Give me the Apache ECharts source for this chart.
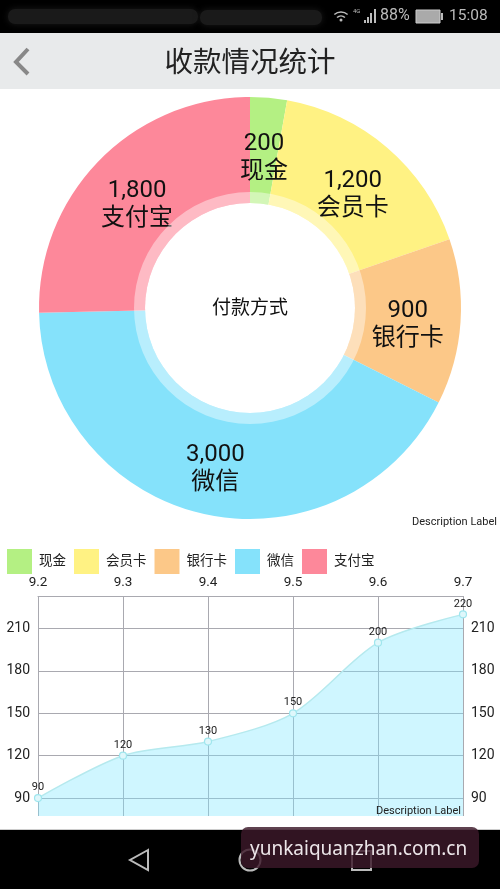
<!DOCTYPE html>
<html>
<head>
<meta charset="utf-8">
<title>收款情况统计</title>
<script src="https://cdn.jsdelivr.net/npm/echarts@6/dist/echarts.min.js"></script>
<style>
  html, body { margin: 0; padding: 0; background: #fff; }
  #chart { width: 500px; height: 889px; }
</style>
</head>
<body>
<div id="chart"></div>
<script>
const payNames = ['现金', '会员卡', '银行卡', '微信', '支付宝'];
const payValues = [200, 1200, 900, 3000, 1800];
const payColors = ['#b4f083', '#fff283', '#fcc888', '#85e2fb', '#fd889a'];

const days = ['9.2', '9.3', '9.4', '9.5', '9.6', '9.7'];
const dayValues = [90, 120, 130, 150, 200, 220];
const yTicks = [90, 120, 150, 180, 210];

const FONT = "Roboto, 'Noto Sans CJK SC', sans-serif";

const yAxisBase = {
  type: 'value',
  min: 77.3,
  max: 233,
  axisLine: { show: false },
  axisTick: { show: false, customValues: yTicks },
  axisLabel: { customValues: yTicks, color: '#222', fontSize: 14, fontFamily: FONT, margin: 8 }
};

const smear = { shadowBlur: 7, shadowColor: '#1a1a1a' };

const chrome = [
  // status bar
  { type: 'rect', shape: { x: 0, y: 0, width: 500, height: 33 }, style: { fill: '#000' } },
  { type: 'rect', shape: { x: 8, y: 9, width: 190, height: 15, r: 7 }, style: Object.assign({ fill: '#1a1a1a' }, smear) },
  { type: 'rect', shape: { x: 200, y: 10, width: 122, height: 15, r: 7 }, style: Object.assign({ fill: '#1a1a1a' }, smear) },
  { type: 'arc', shape: { cx: 341, cy: 22, r: 10, startAngle: -2.3, endAngle: -0.85 }, style: { stroke: '#bbb', fill: null, lineWidth: 1.5 } },
  { type: 'arc', shape: { cx: 341, cy: 22, r: 6, startAngle: -2.3, endAngle: -0.85 }, style: { stroke: '#bbb', fill: null, lineWidth: 1.5 } },
  { type: 'circle', shape: { cx: 341, cy: 20, r: 1.5 }, style: { fill: '#bbb' } },
  { type: 'text', style: { x: 353, y: 8, text: '4G', fill: '#bbb', fontSize: 6, fontFamily: FONT } },
  { type: 'rect', shape: { x: 364, y: 20, width: 2, height: 3 }, style: { fill: '#bbb' } },
  { type: 'rect', shape: { x: 367, y: 17, width: 2, height: 6 }, style: { fill: '#bbb' } },
  { type: 'rect', shape: { x: 370, y: 13, width: 2, height: 10 }, style: { fill: '#bbb' } },
  { type: 'rect', shape: { x: 374, y: 9, width: 2, height: 14 }, style: { fill: '#bbb' } },
  { type: 'text', style: { x: 380, y: 8, text: '88%', fill: '#bbb', fontSize: 16, fontFamily: FONT } },
  { type: 'rect', shape: { x: 416, y: 10, width: 24, height: 13 }, style: { fill: '#aaa', stroke: '#ccc', lineWidth: 1 } },
  { type: 'rect', shape: { x: 441, y: 13, width: 2, height: 7 }, style: { fill: '#bbb' } },
  { type: 'text', style: { x: 449, y: 8, text: '15:08', fill: '#bbb', fontSize: 15.5, fontFamily: FONT } },
  // header
  { type: 'rect', shape: { x: 0, y: 33, width: 500, height: 56 }, style: { fill: '#e8eaeb' } },
  { type: 'polyline', shape: { points: [[28, 49], [16, 62], [28, 74]] }, style: { stroke: '#888', fill: null, lineWidth: 4 } },
  { type: 'text', style: { x: 250, y: 65, text: '收款情况统计', fill: '#222', fontSize: 28.5, fontFamily: FONT, align: 'center', verticalAlign: 'middle' } },
  // pie centre and descriptions
  { type: 'text', style: { x: 250, y: 309, text: '付款方式', fill: '#111', fontSize: 19, fontFamily: FONT, align: 'center', verticalAlign: 'middle' } },
  { type: 'text', style: { x: 497, y: 522, text: 'Description Label', fill: '#222', fontSize: 11, fontFamily: FONT, align: 'right', verticalAlign: 'middle' } },
  { type: 'text', style: { x: 461, y: 811, text: 'Description Label', fill: '#222', fontSize: 11, fontFamily: FONT, align: 'right', verticalAlign: 'middle' } },
  // nav bar
  { type: 'rect', shape: { x: 0, y: 830, width: 500, height: 59 }, style: { fill: '#000' } },
  { type: 'rect', shape: { x: 0, y: 829, width: 500, height: 1 }, style: { fill: '#ccc' } },
  { type: 'polygon', shape: { points: [[148, 850], [130, 860], [148, 870]] }, style: { stroke: '#bbb', fill: null, lineWidth: 2 } },
  { type: 'circle', shape: { cx: 250, cy: 860, r: 10.5 }, style: { stroke: '#bbb', fill: null, lineWidth: 2 } },
  { type: 'rect', shape: { x: 352, y: 851, width: 19, height: 19 }, style: { stroke: '#bbb', fill: null, lineWidth: 2 } },
  // watermark
  { type: 'rect', shape: { x: 241, y: 827, width: 238, height: 41, r: 7 }, style: { fill: 'rgba(60,25,42,0.82)' } },
  { type: 'text', style: { x: 250, y: 850, text: 'yunkaiquanzhan.com.cn', fill: '#ece6e9', fontSize: 19, fontFamily: "'Noto Sans', sans-serif", verticalAlign: 'middle' } }
];

const myChart = echarts.init(document.getElementById('chart'));
myChart.setOption({
  animation: false,
  backgroundColor: '#fff',
  legend: {
    data: payNames,
    left: 7,
    top: 549,
    padding: 0,
    itemWidth: 25,
    itemHeight: 25,
    itemGap: 8,
    icon: 'rect',
    textStyle: { color: '#222', fontSize: 13.5, fontFamily: FONT, padding: [0, 0, 0, 2] }
  },
  grid: { left: 38, right: 37, top: 596, bottom: 73 },
  xAxis: {
    type: 'category',
    position: 'top',
    boundaryGap: false,
    data: days,
    axisLine: { lineStyle: { color: '#a9a9b0', width: 1 } },
    axisTick: { show: false },
    axisLabel: { color: '#222', fontSize: 13.5, fontFamily: FONT, margin: 7, showMinLabel: true, showMaxLabel: true },
    splitLine: { show: true, lineStyle: { color: '#a9a9b0', width: 1 } }
  },
  yAxis: [
    Object.assign({}, yAxisBase, { position: 'left', splitLine: { show: true, lineStyle: { color: '#a9a9b0', width: 1 } } }),
    Object.assign({}, yAxisBase, { position: 'right', splitLine: { show: false } })
  ],
  series: [
    {
      // inner edge sits under the disc below, so the labels land where the reference has them
      type: 'pie',
      center: [250, 308],
      radius: [99, 211],
      startAngle: 90,
      silent: true,
      data: payNames.map((name, i) => ({
        name,
        value: payValues[i],
        itemStyle: { color: payColors[i] }
      })),
      label: {
        position: 'inside',
        formatter: p => p.value.toLocaleString('en-US') + '\n' + p.name,
        color: '#111',
        fontSize: 24,
        lineHeight: 28,
        fontFamily: FONT,
        offset: [0, 7]
      },
      labelLine: { show: false }
    },
    {
      // white hole
      type: 'pie',
      center: [250, 308],
      radius: [0, 105],
      silent: true,
      data: [{ name: 'hole', value: 1 }],
      itemStyle: { color: '#fff' },
      label: { show: false },
      labelLine: { show: false },
      z: 3
    },
    {
      // translucent ring around the hole
      type: 'pie',
      center: [250, 308],
      radius: [105, 116],
      silent: true,
      data: [{ name: 'ring', value: 1 }],
      itemStyle: { color: 'rgba(255,255,255,0.42)' },
      label: { show: false },
      labelLine: { show: false },
      z: 3
    },
    {
      type: 'line',
      data: dayValues,
      smooth: 0.3,
      symbol: 'circle',
      symbolSize: 7,
      itemStyle: { color: '#dff7fb', borderColor: '#9fe6ee', borderWidth: 1.2 },
      lineStyle: { color: '#b5e9ee', width: 1.5 },
      areaStyle: { color: 'rgba(130,232,255,0.38)', origin: 'start', opacity: 1 },
      label: { show: true, position: 'top', distance: 1, color: '#222', fontSize: 11, fontFamily: FONT },
      z: 3
    }
  ],
  graphic: { elements: chrome.map(el => Object.assign({ z: 100, silent: true }, el)) }
});
</script>
</body>
</html>
